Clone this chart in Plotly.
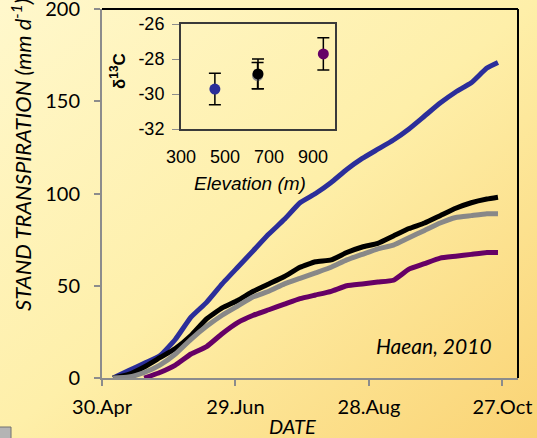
import base64
import plotly.graph_objects as go

# ---------------- data ----------------
dates = ["2010-05-05", "2010-05-12", "2010-05-19", "2010-05-26", "2010-06-02", "2010-06-09",
         "2010-06-16", "2010-06-23", "2010-06-30", "2010-07-07", "2010-07-14", "2010-07-21",
         "2010-07-28", "2010-08-04", "2010-08-11", "2010-08-18", "2010-08-25", "2010-09-01",
         "2010-09-08", "2010-09-15", "2010-09-22", "2010-09-29", "2010-10-06", "2010-10-13",
         "2010-10-20", "2010-10-25"]
blue_vals = [0, 4, 8, 12, 21, 33, 41, 51, 60, 69, 78, 86, 95, 100, 106, 113, 119, 124,
             129, 135, 142, 149, 155, 160, 168, 171]
black_vals = [0, 2, 6, 11, 16, 23, 32, 38, 42, 47, 51, 55, 60, 63, 64, 68, 71, 73,
              77, 81, 84, 88, 92, 95, 97, 98]
gray_vals = [0, 0.5, 3, 7, 13, 21, 28, 34, 39, 44, 47, 51, 54, 57, 60, 64, 67, 70,
             72, 76, 80, 84, 87, 88, 89, 89]
purple_vals = [None, None, 0, 3, 7, 13, 17, 24, 30, 34, 37, 40, 43, 45, 47, 50, 51, 52,
               53, 59, 62, 65, 66, 67, 68, 68]

x_tick_dates = ["2010-04-30", "2010-06-29", "2010-08-28", "2010-10-27"]
x_tick_labels = ["30.Apr", "29.Jun", "28.Aug", "27.Oct"]
y_ticks = [0, 50, 100, 150, 200]

# inset: elevation vs d13C
elev = [454, 648, 650, 947]
d13c = [-29.72, -28.95, -28.85, -27.71]
d13c_err = [0.9, 0.75, 0.85, 0.92]
inset_colors = ["#2B2E9A", "#888888", "#000000", "#660066"]
inset_x_ticks = [300, 500, 700, 900]
inset_y_ticks = [-32, -30, -28, -26]
inset_y_labels = ["-32", "-30", "-28", "-26"]

# ---------------- figure ----------------
W, H = 537, 438
L, R, T, B = 102, 19, 9, 60
pw, ph = W - L - R, H - T - B

def px_x(x):
    return (x - L) / pw

def px_y(y):
    return (H - B - y) / ph

fig = go.Figure()
line_w = 5
for vals, col in [(blue_vals, "#2B2E9A"), (black_vals, "#000000"),
                  (gray_vals, "#888888"), (purple_vals, "#660066")]:
    fig.add_trace(go.Scatter(x=dates, y=vals, mode="lines",
                             line=dict(color=col, width=line_w, shape="spline", smoothing=0.4),
                             showlegend=False, xaxis="x", yaxis="y"))

for xv, yv, ev, col in zip(elev, d13c, d13c_err, inset_colors):
    fig.add_trace(go.Scatter(x=[xv], y=[yv], mode="markers",
                             marker=dict(color=col, size=11),
                             error_y=dict(type="data", array=[ev], color="#000000",
                                          thickness=1.5, width=6),
                             showlegend=False, xaxis="x2", yaxis="y2"))

svg = ('<svg xmlns="http://www.w3.org/2000/svg" width="537" height="438" '
       'preserveAspectRatio="none" viewBox="0 0 537 438">'
       '<defs><linearGradient id="g" x1="0" y1="0" x2="1" y2="1">'
       '<stop offset="0" stop-color="#FFF8CC"/>'
       '<stop offset="0.5" stop-color="#FEEFA9"/>'
       '<stop offset="1" stop-color="#FAD374"/>'
       '</linearGradient></defs>'
       '<rect width="537" height="438" fill="url(#g)"/></svg>')
src = "data:image/svg+xml;base64," + base64.b64encode(svg.encode()).decode()

main_font = "Lato, Calibri, Carlito, sans-serif"
inset_font = "Liberation Sans, Arial, sans-serif"

fig.update_layout(
    width=W, height=H,
    margin=dict(l=L, r=R, t=T, b=B, autoexpand=False),
    paper_bgcolor="#FEEFA9",
    plot_bgcolor="rgba(0,0,0,0)",
    images=[dict(source=src, xref="paper", yref="paper", x=px_x(0), y=px_y(0),
                 sizex=W / pw, sizey=H / ph, xanchor="left", yanchor="top",
                 sizing="stretch", layer="below")],
    xaxis=dict(type="date", range=["2010-04-30", "2010-11-03"],
               tickvals=x_tick_dates, ticktext=x_tick_labels, automargin=False,
               ticklabeloverflow="allow",
               showgrid=False, zeroline=False, showline=True, linecolor="#8C8C8C",
               linewidth=2, ticks="outside", ticklen=6, tickwidth=2, tickcolor="#8C8C8C",
               tickfont=dict(family=main_font, size=20, color="#000000"),
               ticklabelstandoff=4),
    yaxis=dict(range=[0, 200], tickvals=y_ticks, showgrid=False, zeroline=False,
               automargin=False, ticklabeloverflow="allow",
               showline=True, linecolor="#8C8C8C", linewidth=2, ticks="outside",
               ticklen=6, tickwidth=2, tickcolor="#8C8C8C",
               tickfont=dict(family=main_font, size=20, color="#000000"),
               ticklabelstandoff=10),
    xaxis2=dict(domain=[px_x(181), px_x(335)], anchor="y2", range=[300, 1000],
                tickvals=inset_x_ticks, showgrid=False, zeroline=False, automargin=False,
                showline=True, mirror=True, linecolor="#3A3A3A", linewidth=2,
                ticks="", ticklabelstandoff=10,
                tickfont=dict(family=inset_font, size=18, color="#000000")),
    yaxis2=dict(domain=[px_y(129), px_y(24)], anchor="x2", range=[-32, -26],
                tickvals=inset_y_ticks, ticktext=inset_y_labels, automargin=False,
                showgrid=False, zeroline=False,
                showline=True, mirror=True, linecolor="#3A3A3A", linewidth=2,
                ticks="outside", ticklen=7, tickwidth=1, tickcolor="#8C8C8C",
                ticklabelstandoff=4,
                tickfont=dict(family=inset_font, size=18, color="#000000")),
    shapes=[
        dict(type="line", xref="paper", yref="paper", x0=0, x1=1, y0=1, y1=1,
             line=dict(color="#000000", width=2)),
        dict(type="line", xref="paper", yref="paper", x0=1, x1=1, y0=0, y1=1,
             line=dict(color="#000000", width=2)),
        dict(type="rect", xref="paper", yref="paper", x0=px_x(-2), x1=px_x(11),
             y0=px_y(440), y1=px_y(427), fillcolor="#B4B4B4",
             line=dict(color="#707070", width=1)),
    ],
    annotations=[
        dict(text="STAND TRANSPIRATION (mm d<sup>-1</sup>)", textangle=-90,
             xref="paper", yref="paper", x=px_x(21), y=px_y(313),
             xanchor="center", yanchor="bottom", showarrow=False,
             font=dict(family=main_font, size=22, color="#000000", style="italic")),
        dict(text="DATE", xref="paper", yref="paper", x=px_x(292), y=px_y(426),
             xanchor="center", yanchor="middle", showarrow=False,
             font=dict(family=main_font, size=20, color="#000000", style="italic")),
        dict(text="Haean, 2010", xref="paper", yref="paper", x=px_x(434), y=px_y(345),
             xanchor="center", yanchor="middle", showarrow=False,
             font=dict(family=main_font, size=21, color="#000000", style="italic")),
        dict(text="Elevation (m)", xref="paper", yref="paper", x=px_x(250), y=px_y(183),
             xanchor="center", yanchor="middle", showarrow=False,
             font=dict(family=inset_font, size=19, color="#000000", style="italic")),
        dict(text="<b>δ<sup>13</sup>C</b>", textangle=-90, xref="paper", yref="paper",
             x=px_x(118), y=px_y(71), xanchor="center", yanchor="middle", showarrow=False,
             font=dict(family=inset_font, size=17, color="#000000")),
    ],
)

fig.write_html("out.html", config={"displayModeBar": False},
               post_script="document.body.style.margin='0';document.body.style.padding='0';")
